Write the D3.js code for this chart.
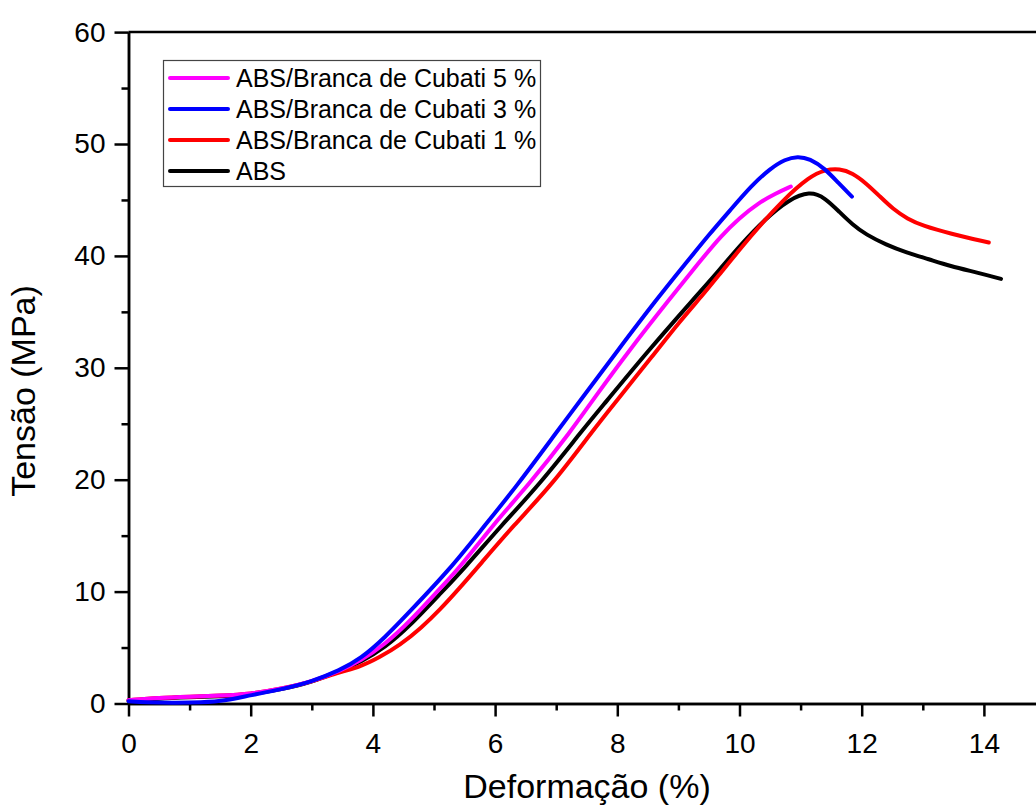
<!DOCTYPE html>
<html>
<head>
    <meta charset="utf-8">
    <title>Tensão x Deformação</title>
    <script type="text/javascript" src="https://d3js.org/d3.v7.min.js"></script>
    <style>
        body{
            margin:0px;
            background:#ffffff;
        }
        svg{
            position:absolute;
            top:0px;
            left:0px;
            font-family:"Liberation Sans", Arial, sans-serif;
        }
        .axis path, .axis line{
            stroke:#000;
            stroke-width:2.5;
        }
        .axis text{
            font-family:"Liberation Sans", Arial, sans-serif;
            font-size:28px;
            fill:#000;
        }
    </style>
</head>
<body>
    <div id="chart"></div>

    <script type="text/javascript">
        // curves, [deformação %, tensão MPa]
        var abs5 = [[0,0.3],[0.5,0.5],[1.0,0.6],[1.5,0.7],[2.0,0.85],[2.5,1.3],[3.0,1.95],[3.45,2.9],[3.8,3.8],[4.2,5.3],[4.6,7.3],[5.1,10.3],[5.4,12.0],[6.0,16.2],[6.56,19.6],[7.25,24.4],[7.61,27.2],[8.2,31.6],[8.85,36.1],[9.35,39.5],[9.7,41.8],[10.0,43.4],[10.3,44.7],[10.6,45.6],[10.84,46.2]]
        var abs3 = [[0,0.2],[0.3,0.1],[0.7,0.05],[1.2,0.08],[1.6,0.25],[2.0,0.75],[2.5,1.25],[3.0,1.95],[3.45,2.95],[3.8,4.0],[4.2,5.9],[4.6,8.2],[5.26,12.0],[5.8,15.7],[6.35,19.4],[7.0,24.2],[7.41,27.2],[8.0,31.5],[8.64,36.1],[9.1,39.2],[9.5,41.9],[9.85,44.1],[10.2,46.3],[10.5,47.8],[10.75,48.65],[10.95,48.9],[11.15,48.7],[11.4,47.8],[11.62,46.5],[11.84,45.3]]
        var abs1 = [[0,0.3],[0.5,0.5],[1.0,0.6],[1.5,0.7],[2.0,0.85],[2.5,1.3],[3.0,1.95],[3.45,2.8],[3.8,3.3],[4.1,4.1],[4.44,5.2],[4.8,6.8],[5.1,8.4],[5.4,10.2],[5.75,12.4],[6.3,15.9],[6.94,19.6],[7.6,24.4],[7.95,26.8],[8.6,31.2],[9.0,34.0],[9.43,36.7],[9.65,38.2],[10.2,41.9],[10.71,45.0],[11.15,47.1],[11.4,47.7],[11.64,47.8],[11.85,47.4],[12.07,46.5],[12.3,45.3],[12.51,44.2],[12.75,43.3],[13.0,42.7],[13.44,42.0],[14.08,41.2]]
        var abs0 = [[0,0.25],[0.5,0.45],[1.0,0.55],[1.5,0.65],[2.0,0.8],[2.5,1.25],[3.0,1.9],[3.45,2.9],[3.8,3.7],[4.2,5.0],[4.6,6.9],[5.1,9.8],[5.5,12.1],[6.1,15.9],[6.73,19.6],[7.44,24.5],[7.76,26.6],[8.5,31.5],[9.29,36.4],[9.62,38.4],[10.0,40.9],[10.44,43.4],[10.8,45.0],[11.15,45.8],[11.4,45.2],[11.64,43.9],[11.85,42.8],[12.07,41.9],[12.4,41.0],[12.73,40.3],[13.1,39.7],[13.44,39.1],[13.9,38.5],[14.28,37.95]]

        var seriesNames = ["ABS/Branca de Cubati 5 %","ABS/Branca de Cubati 3 %","ABS/Branca de Cubati 1 %","ABS"]
        var seriesColors = ["#ff00ff","#0000ff","#ff0000","#000000"]
        var seriesData = [abs5,abs3,abs1,abs0]
        var drawOrder = [3,2,0,1] //black under, blue on top

        var xMajor = [0,2,4,6,8,10,12,14]
        var xMinor = [1,3,5,7,9,11,13]
        var yMajor = [0,10,20,30,40,50,60]
        var yMinor = [5,15,25,35,45,55]

        var width = 1036
        var height = 808
        var plotLeft = 128.5, plotTop = 32.1, plotBottom = 703.5

        var svg = d3.select("#chart").append("svg")
            .attr("width",width)
            .attr("height",height)

        var x = d3.scaleLinear().domain([0,15]).range([plotLeft,plotLeft+15*61.1])
        var y = d3.scaleLinear().domain([0,60]).range([plotBottom,plotTop])

        // frame line on top
        svg.append("line")
            .attr("x1",plotLeft).attr("x2",width)
            .attr("y1",plotTop).attr("y2",plotTop)
            .attr("stroke","#000").attr("stroke-width",2.5)

        // x axis, majors then minors
        svg.append("g").attr("class","axis")
            .attr("transform","translate(0,"+plotBottom+")")
            .call(d3.axisBottom(x).tickValues(xMajor).tickSize(13).tickSizeOuter(0).tickPadding(17))
        svg.append("g").attr("class","axis")
            .attr("transform","translate(0,"+plotBottom+")")
            .call(d3.axisBottom(x).tickValues(xMinor).tickSize(7).tickSizeOuter(0).tickFormat(""))

        // y axis
        svg.append("g").attr("class","axis")
            .attr("transform","translate("+plotLeft+",0)")
            .call(d3.axisLeft(y).tickValues(yMajor).tickSize(14).tickSizeOuter(0).tickPadding(9))
        svg.append("g").attr("class","axis")
            .attr("transform","translate("+plotLeft+",0)")
            .call(d3.axisLeft(y).tickValues(yMinor).tickSize(7).tickSizeOuter(0).tickFormat(""))

        // curves, smoothed like the original instrument trace
        var line = d3.line()
            .x(function(d){ return x(d[0]) })
            .y(function(d){ return y(d[1]) })
            .curve(d3.curveBasis)

        drawOrder.forEach(function(i){
            svg.append("path")
                .attr("d",line(seriesData[i]))
                .attr("fill","none")
                .attr("stroke",seriesColors[i])
                .attr("stroke-width",4)
                .attr("stroke-linecap","round")
                .attr("stroke-linejoin","round")
        })

        // axis titles
        svg.append("text")
            .attr("x",587).attr("y",798)
            .attr("text-anchor","middle")
            .attr("font-size",34)
            .text("Deformação (%)")
        svg.append("text")
            .attr("transform","translate(35,391) rotate(-90)")
            .attr("text-anchor","middle")
            .attr("font-size",34)
            .text("Tensão (MPa)")

        // legend
        var legend = svg.append("g")
        legend.append("rect")
            .attr("x",163.5).attr("y",60.5)
            .attr("width",377).attr("height",126)
            .attr("fill","#ffffff")
            .attr("stroke","#444")
            .attr("stroke-width",1.2)
        seriesNames.forEach(function(name,i){
            var ly = 78 + i*31
            legend.append("line")
                .attr("x1",170).attr("x2",228)
                .attr("y1",ly).attr("y2",ly)
                .attr("stroke",seriesColors[i])
                .attr("stroke-width",4)
                .attr("stroke-linecap","round")
            legend.append("text")
                .attr("x",236).attr("y",ly+9)
                .attr("font-size",25)
                .text(name)
        })
    </script>
</body>
</html>
